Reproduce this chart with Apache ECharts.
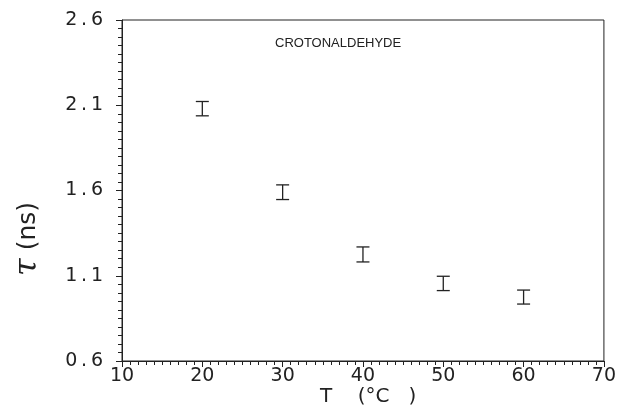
<!DOCTYPE html>
<html>
<head>
<meta charset="utf-8">
<script src="https://cdn.jsdelivr.net/npm/echarts@6/dist/echarts.min.js"></script>
<style>
  html, body { margin: 0; padding: 0; background: #fff; }
  #main { width: 619px; height: 412px; }
</style>
</head>
<body>
<div id="main"></div>
<script>
// temperature (°C), lifetime tau (ns), error half-width
var temps = [20, 30, 40, 50, 60];
var tau = [2.08, 1.59, 1.225, 1.055, 0.975];
var tauErr = [0.042, 0.043, 0.044, 0.042, 0.041];

var xTicks = [10, 20, 30, 40, 50, 60, 70];
var yTicks = [0.6, 1.1, 1.6, 2.1, 2.6];

var sample = 'CROTONALDEHYDE';

var font = 'DejaVu Sans';
var ink = '#222';

var myChart = echarts.init(document.getElementById('main'));

var errData = [];
for (var i = 0; i < temps.length; i++) {
    errData.push([temps[i], tau[i] - tauErr[i], tau[i] + tauErr[i]]);
}

myChart.setOption({
    animation: false,
    grid: {
        left: 122,
        right: 12,
        top: 20,
        bottom: 51,
        show: true,
        borderColor: ink,
        borderWidth: 1
    },
    xAxis: {
        type: 'value',
        min: xTicks[0],
        max: xTicks[xTicks.length - 1],
        interval: 10,
        axisLine: {lineStyle: {color: ink, width: 1}},
        axisTick: {show: true, length: 6, lineStyle: {color: ink}},
        minorTick: {show: true, splitNumber: 10, length: 4, lineStyle: {color: ink}},
        splitLine: {show: false},
        axisLabel: {
            color: ink, fontFamily: font, fontSize: 19, margin: 6
        }
    },
    yAxis: {
        type: 'value',
        min: yTicks[0],
        max: yTicks[yTicks.length - 1],
        interval: 0.5,
        axisLine: {show: true, lineStyle: {color: ink, width: 1}},
        axisTick: {show: true, length: 6, lineStyle: {color: ink}},
        minorTick: {show: true, splitNumber: 10, length: 4, lineStyle: {color: ink}},
        splitLine: {show: false},
        axisLabel: {
            color: ink, fontFamily: font, fontSize: 19, margin: 19,
            formatter: function (v) { return v.toFixed(1).replace('.', '\u2009.\u2009'); }
        }
    },
    graphic: [
        {
            type: 'text', left: 275, top: 37,
            style: {text: sample, fill: ink, font: '13px Liberation Sans'}
        },
        {
            type: 'text', left: 320, top: 387,
            style: {text: 'T    (°C   )', fill: ink, font: '20px ' + font}
        },
        {
            type: 'text', x: 28, y: 239, rotation: Math.PI / 2,
            style: {
                text: '{t|τ} (ns)', fill: ink, font: '25px ' + font,
                align: 'center', verticalAlign: 'middle',
                rich: {t: {fontSize: 32, fontStyle: 'italic', fontFamily: 'DejaVu Serif', fill: ink}}
            }
        }
    ],
    series: [
        {
            type: 'custom',
            data: errData,
            renderItem: function (params, api) {
                var x = api.value(0);
                var lo = api.coord([x, api.value(1)]);
                var hi = api.coord([x, api.value(2)]);
                var w = 6.5;
                var st = {stroke: ink, lineWidth: 1.3};
                return {
                    type: 'group',
                    children: [
                        {type: 'line', shape: {x1: hi[0], y1: hi[1], x2: lo[0], y2: lo[1]}, style: st},
                        {type: 'line', shape: {x1: hi[0] - w, y1: hi[1], x2: hi[0] + w, y2: hi[1]}, style: st},
                        {type: 'line', shape: {x1: lo[0] - w, y1: lo[1], x2: lo[0] + w, y2: lo[1]}, style: st}
                    ]
                };
            }
        }
    ]
});
</script>
</body>
</html>
